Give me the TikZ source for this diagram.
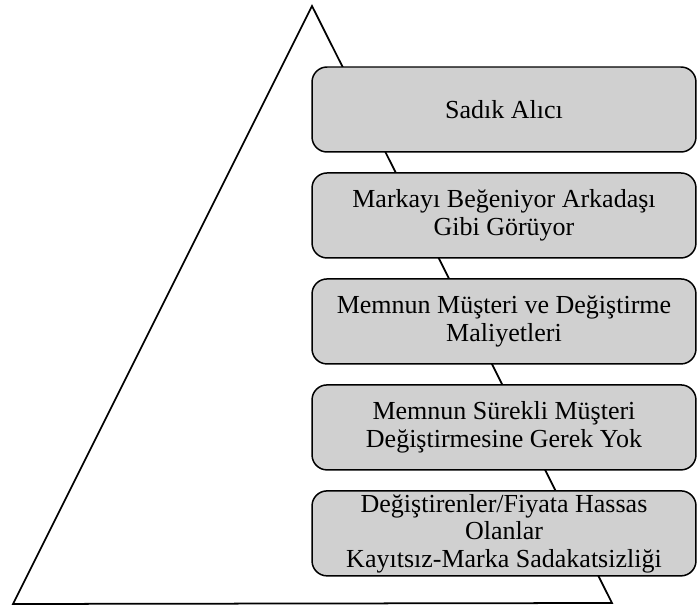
\documentclass[tikz,border=0pt]{standalone}
\usepackage{fontspec}
\setmainfont{Liberation Serif}
\usetikzlibrary{positioning}
\definecolor{boxgray}{HTML}{D0D0D0}

\begin{document}
\begin{tikzpicture}[x=0.02cm, y=-0.02cm, node distance=0.39cm,
    level/.style={draw, line width=0.85pt, fill=boxgray, rounded corners=0.3cm,
      minimum width=7.68cm, minimum height=1.7cm, inner ysep=0pt, align=center,
      font=\fontsize{14.8}{15.6}\selectfont}]
      \useasboundingbox (0,0) rectangle (697,607);
      % pyramid
      \coordinate (apex) at (312,6);
      \coordinate (baseL) at (13,604);
      \coordinate (baseR) at (612,603);
      \draw[line width=1pt, line join=miter] (apex) -- (baseL) -- (baseR) -- cycle;
      % loyalty levels
      \node [level] (sadik) at (504,109.5) {Sadık Alıcı};
      \node [level, below=of sadik] (arkadas) {Markayı Beğeniyor Arkadaşı\\Gibi Görüyor};
      \node [level, below=of arkadas] (memnun) {Memnun Müşteri ve Değiştirme\\Maliyetleri};
      \node [level, below=of memnun] (surekli) {Memnun Sürekli Müşteri\\Değiştirmesine Gerek Yok};
      \node [level, below=of surekli] (degistiren) {Değiştirenler/Fiyata Hassas\\Olanlar\\Kayıtsız-Marka Sadakatsizliği};
     \end{tikzpicture}
\end{document}
